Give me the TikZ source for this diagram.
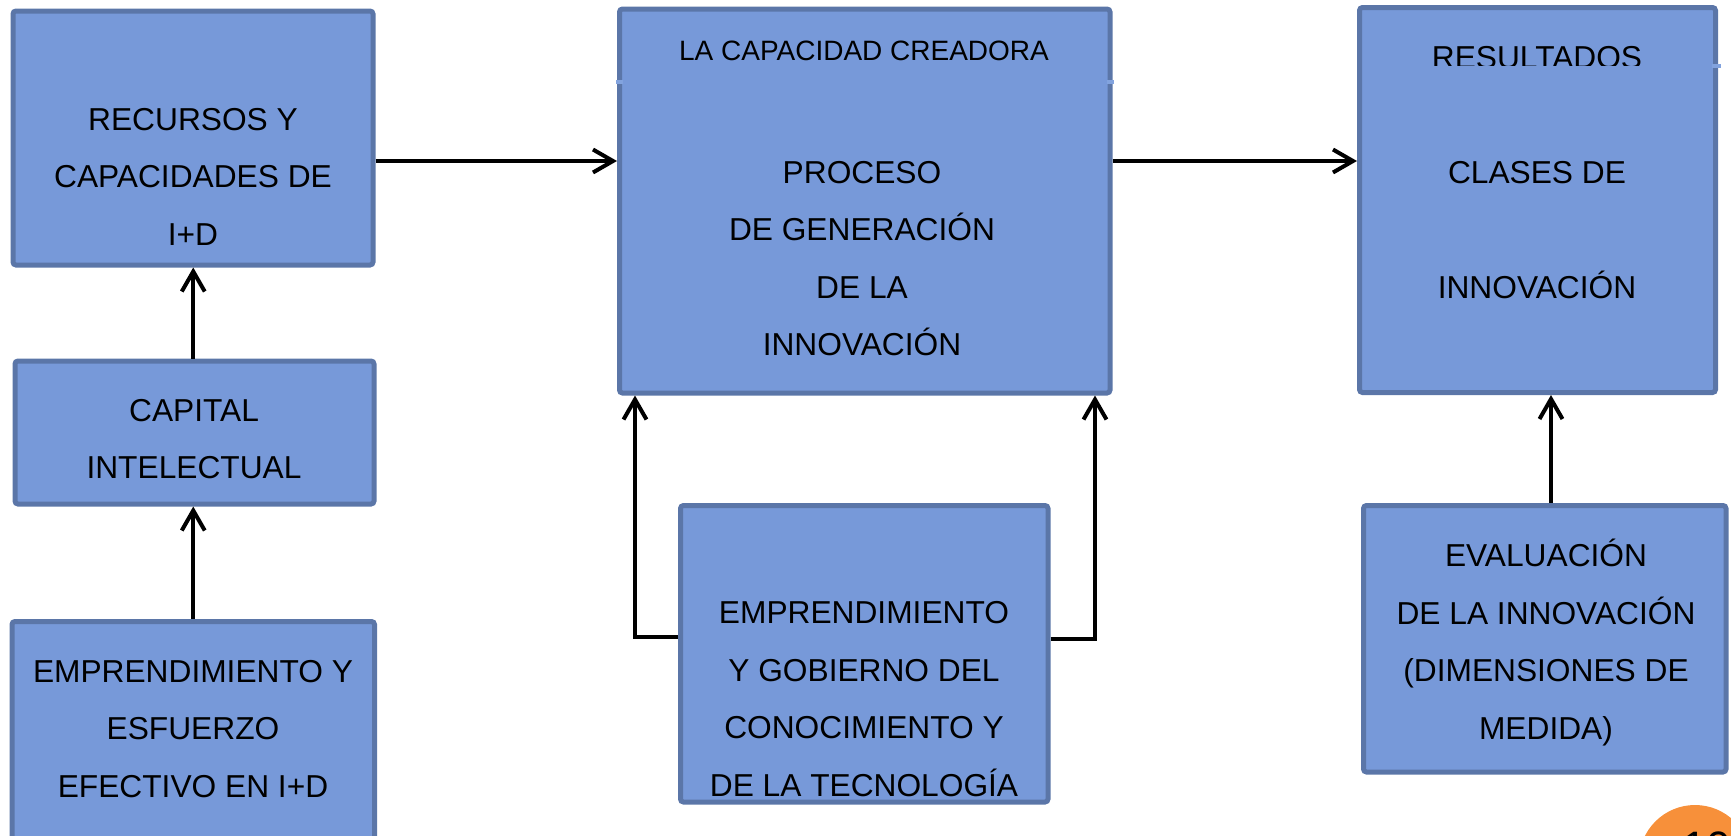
\documentclass[tikz,border=0pt]{standalone}
\usepackage{fontspec}
\setmainfont{Liberation Sans}
\usetikzlibrary{arrows.meta,fit}
\definecolor{boxfill}{HTML}{7799D9}
\definecolor{boxline}{HTML}{5B76A8}
\definecolor{lineblue}{HTML}{82A3DE}
\definecolor{pageorange}{HTML}{F7903A}
\tikzset{
  box/.style={draw=boxline, fill=boxfill, line width=2.5pt, rounded corners=1.5pt, inner sep=0pt},
  txt/.style={align=center, inner sep=0pt, font=\fontsize{15.85pt}{28.75pt}\selectfont},
  ttl/.style={align=center, inner sep=0pt, font=\fontsize{14pt}{25pt}\selectfont},
  arr/.style={line width=2pt, -{Straight Barb[length=10pt,width=11.5pt,line width=2pt]}},
  frameline/.style={lineblue, line width=2pt},
}
\begin{document}
\begin{tikzpicture}[x=0.5pt,y=-0.5pt]
\useasboundingbox (0,0) rectangle (1731,836);
% boxes
\node[box, fit={(13,11) (373,265)}] (b1) {};
\node[box, fit={(15,361) (374,504)}] (b2) {};
\node[box, fit={(12,621.5) (374.5,870)}] (b3) {};
\node[box, fit={(619.5,9) (1110,393)}] (b4) {};
\node[box, fit={(680.5,505.5) (1048,802)}] (b5) {};
\node[box, fit={(1359.5,7.5) (1715.5,392.5)}] (b6) {};
\node[box, fit={(1363.5,505.5) (1726,772)}] (b7) {};
% light ends of text frames
\draw[frameline] (616,82) -- (623,82);
\draw[frameline] (1106.5,82) -- (1114,82);
\draw[frameline] (1712,66) -- (1721,66);
% texts
\node[txt] (t1) at (193,176) {\strut RECURSOS Y\\\strut CAPACIDADES DE\\\strut I+D};
\node[txt] (t2) at (194,438.5) {\strut CAPITAL\\\strut INTELECTUAL};
\node[txt] (t3) at (193,728) {\strut EMPRENDIMIENTO Y\\\strut ESFUERZO\\\strut EFECTIVO EN I+D};
\node[ttl] (t4a) at (864,50) {\strut LA CAPACIDAD CREADORA};
\node[txt] (t4) at (862,258) {\strut PROCESO\\\strut DE GENERACIÓN\\\strut DE LA\\\strut INNOVACIÓN};
\node[txt] (t5) at (864,698.5) {\strut EMPRENDIMIENTO\\\strut Y GOBIERNO DEL\\\strut CONOCIMIENTO Y\\\strut DE LA TECNOLOGÍA};
\node[txt] (t6) at (1537,229) {\strut CLASES DE\\\strut\\\strut INNOVACIÓN};
\node[txt] (t7) at (1546,641.5) {\strut EVALUACIÓN\\\strut DE LA INNOVACIÓN\\\strut (DIMENSIONES DE\\\strut MEDIDA)};
\begin{scope}
\clip (1362,0) rectangle (1714,65);
\node[txt] (t6a) at (1537,57) {\strut RESULTADOS};
\end{scope}
% page number
\node[circle, fill=pageorange, minimum size=56pt, inner sep=0pt] (pg) at (1695,861) {};
\node[anchor=base west, inner sep=0pt, font=\fontsize{22pt}{26pt}\selectfont] (pgn) at (1682,862) {10};
% connectors
\coordinate (y1) at (0,161);
\coordinate (k1) at (635,637);
\coordinate (k2) at (1095,639);
\coordinate (k3) at (1551,0);
\draw[arr] (b1.east |- y1) -- (b4.west |- y1);
\draw[arr] (b4.east |- y1) -- (b6.west |- y1);
\draw[arr] (b2.north -| b3.north) -- (b1.south -| b3.north);
\draw[arr] (b3.north) -- (b3.north |- b2.south);
\draw[arr] (b5.west |- k1) -| (b4.south -| k1);
\draw[arr] (b5.east |- k2) -| (b4.south -| k2);
\draw[arr] (b7.north -| k3) -- (b6.south -| k3);
\end{tikzpicture}
\end{document}
